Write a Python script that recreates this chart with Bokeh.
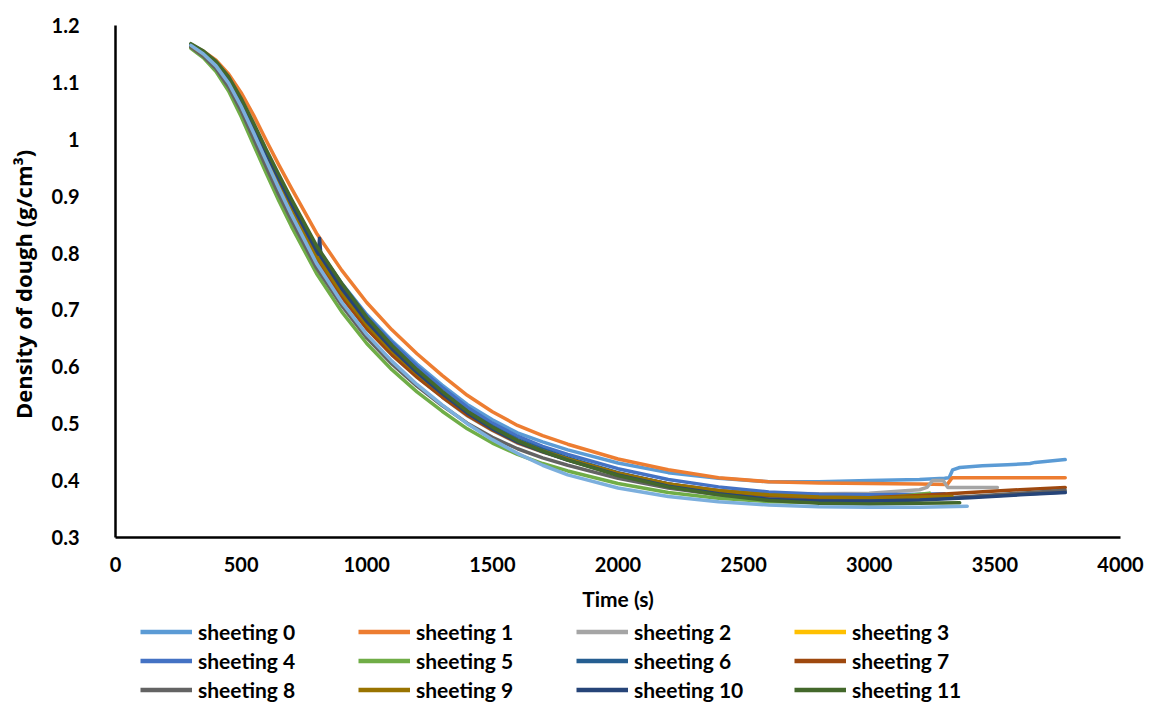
from bokeh.plotting import figure
from bokeh.layouts import column
from bokeh.models import Range1d, FixedTicker, CustomJSTickFormatter, Legend, LegendItem
from bokeh.embed import file_html
from bokeh.resources import INLINE

# ---------------- data ----------------
X_TICKS = [0, 500, 1000, 1500, 2000, 2500, 3000, 3500, 4000]
Y_TICKS = [0.3, 0.4, 0.5, 0.6, 0.7, 0.8, 0.9, 1.0, 1.1, 1.2]

SERIES_NAMES = ["sheeting 0", "sheeting 1", "sheeting 2", "sheeting 3",
                "sheeting 4", "sheeting 5", "sheeting 6", "sheeting 7",
                "sheeting 8", "sheeting 9", "sheeting 10", "sheeting 11"]
SERIES_COLORS = ["#5B9BD5", "#ED7D31", "#A5A5A5", "#FFC000",
                 "#4472C4", "#70AD47", "#255E91", "#9E480E",
                 "#636363", "#997300", "#264478", "#43682B"]
EXTRA_COLOR = "#7CAFDD"   # unlabelled 13th trace (lowest curve)

# common sampling times (s)
T_BASE = [300, 350, 400, 450, 500, 550, 600, 650, 700, 800, 900, 1000, 1100,
          1200, 1300, 1400, 1500, 1600, 1700, 1800, 2000, 2200, 2400, 2600,
          2800, 3000, 3200]

# density (g/cm3) at T_BASE for each series
d_s0 = [1.165, 1.152, 1.134, 1.106, 1.067, 1.022, 0.976, 0.932, 0.890, 0.810, 0.747, 0.692, 0.646,
        0.605, 0.568, 0.534, 0.507, 0.484, 0.468, 0.454, 0.431, 0.414, 0.404, 0.398, 0.398, 0.400, 0.402]
d_s1 = [1.165, 1.155, 1.139, 1.115, 1.082, 1.042, 0.998, 0.955, 0.914, 0.835, 0.770, 0.713, 0.665,
        0.623, 0.585, 0.550, 0.521, 0.497, 0.479, 0.464, 0.438, 0.419, 0.405, 0.398, 0.396, 0.395, 0.394]
d_s2 = [1.166, 1.152, 1.132, 1.103, 1.063, 1.016, 0.967, 0.920, 0.875, 0.791, 0.725, 0.668, 0.622,
        0.582, 0.547, 0.514, 0.488, 0.466, 0.450, 0.436, 0.412, 0.394, 0.383, 0.378, 0.377, 0.378, 0.384]
d_s3 = [1.165, 1.151, 1.131, 1.101, 1.061, 1.014, 0.966, 0.920, 0.876, 0.793, 0.727, 0.671, 0.625,
        0.585, 0.550, 0.517, 0.490, 0.468, 0.451, 0.437, 0.412, 0.393, 0.380, 0.372, 0.368, 0.367, 0.369]
d_s4 = [1.167, 1.154, 1.135, 1.107, 1.068, 1.024, 0.978, 0.934, 0.891, 0.810, 0.746, 0.690, 0.643,
        0.601, 0.564, 0.529, 0.501, 0.478, 0.460, 0.446, 0.421, 0.402, 0.389, 0.380, 0.376, 0.375, 0.376]
d_s5 = [1.160, 1.143, 1.119, 1.085, 1.040, 0.990, 0.940, 0.892, 0.847, 0.764, 0.697, 0.641, 0.595,
        0.556, 0.522, 0.491, 0.466, 0.446, 0.430, 0.417, 0.395, 0.379, 0.369, 0.363, 0.362, 0.367, 0.376]
d_s6 = [1.164, 1.151, 1.132, 1.104, 1.065, 1.020, 0.973, 0.928, 0.884, 0.801, 0.736, 0.679, 0.632,
        0.592, 0.556, 0.522, 0.495, 0.472, 0.455, 0.440, 0.414, 0.394, 0.380, 0.371, 0.366, 0.365, 0.367]
d_s7 = [1.163, 1.148, 1.127, 1.097, 1.056, 1.009, 0.960, 0.914, 0.870, 0.788, 0.723, 0.667, 0.621,
        0.582, 0.547, 0.515, 0.489, 0.467, 0.451, 0.437, 0.413, 0.394, 0.382, 0.374, 0.370, 0.370, 0.374]
d_s8 = [1.162, 1.146, 1.124, 1.092, 1.050, 1.001, 0.951, 0.903, 0.858, 0.774, 0.708, 0.651, 0.605,
        0.566, 0.532, 0.501, 0.476, 0.456, 0.440, 0.427, 0.404, 0.387, 0.375, 0.368, 0.364, 0.364, 0.367]
d_s9 = [1.164, 1.150, 1.130, 1.101, 1.061, 1.015, 0.967, 0.921, 0.877, 0.795, 0.730, 0.674, 0.628,
        0.588, 0.553, 0.520, 0.493, 0.470, 0.452, 0.438, 0.413, 0.394, 0.382, 0.375, 0.371, 0.370, 0.371]
d_s10 = [1.165, 1.152, 1.134, 1.106, 1.068, 1.023, 0.976, 0.931, 0.887, 0.804, 0.738, 0.680, 0.632,
         0.590, 0.553, 0.519, 0.491, 0.468, 0.451, 0.436, 0.410, 0.390, 0.377, 0.367, 0.364, 0.364, 0.366]
d_s11 = [1.168, 1.155, 1.137, 1.110, 1.072, 1.028, 0.982, 0.938, 0.895, 0.813, 0.747, 0.687, 0.638,
         0.595, 0.557, 0.522, 0.494, 0.470, 0.452, 0.436, 0.409, 0.389, 0.375, 0.365, 0.360, 0.359, 0.360]
d_extra = [1.165, 1.150, 1.129, 1.099, 1.058, 1.011, 0.962, 0.914, 0.868, 0.782, 0.714, 0.657, 0.610,
           0.569, 0.533, 0.500, 0.472, 0.448, 0.427, 0.410, 0.387, 0.372, 0.363, 0.357, 0.354, 0.353, 0.353]

# extra readings (end of runs, steps, spikes)
x_s0 = [3300, 3318, 3332, 3360, 3450, 3550, 3640, 3660, 3780]
y_s0 = [0.404, 0.405, 0.419, 0.423, 0.426, 0.428, 0.430, 0.432, 0.437]
x_s1 = [3310, 3330, 3500, 3780]
y_s1 = [0.393, 0.405, 0.405, 0.405]
x_s2 = [3230, 3252, 3295, 3312, 3400, 3510]
y_s2 = [0.388, 0.400, 0.400, 0.388, 0.388, 0.388]
x_s3 = [3230]
y_s3 = [0.370]
x_s4 = [3300]
y_s4 = [0.377]
x_s5 = [3240]
y_s5 = [0.378]
x_s6 = [3400, 3600, 3780]
y_s6 = [0.371, 0.376, 0.380]
x_s7 = [3400, 3600, 3780]
y_s7 = [0.379, 0.384, 0.388]
x_s8 = [3400, 3600, 3780]
y_s8 = [0.372, 0.378, 0.383]
x_s9 = [3330]
y_s9 = [0.372]
x_s10 = [808, 812, 818, 3400, 3600, 3780]
y_s10 = [0.798, 0.826, 0.794, 0.370, 0.375, 0.379]
x_s11 = [3360]
y_s11 = [0.361]
x_extra = [3390]
y_extra = [0.355]

BASE = [d_s0, d_s1, d_s2, d_s3, d_s4, d_s5, d_s6, d_s7, d_s8, d_s9, d_s10, d_s11]
EXTRA_X = [x_s0, x_s1, x_s2, x_s3, x_s4, x_s5, x_s6, x_s7, x_s8, x_s9, x_s10, x_s11]
EXTRA_Y = [y_s0, y_s1, y_s2, y_s3, y_s4, y_s5, y_s6, y_s7, y_s8, y_s9, y_s10, y_s11]


def merged(base, ex, ey):
    pts = sorted(list(zip(T_BASE, base)) + list(zip(ex, ey)))
    return [a for a, _ in pts], [b for _, b in pts]


SERIES_XY = [merged(BASE[i], EXTRA_X[i], EXTRA_Y[i]) for i in range(12)]
EXTRA_XY = merged(d_extra, x_extra, y_extra)

# ---------------- main chart ----------------
FONT = "Lato"
p = figure(width=1162, height=616,
           x_range=Range1d(0, 4000), y_range=Range1d(0.3, 1.2),
           output_backend="svg", toolbar_location=None,
           min_border_left=115, min_border_right=42,
           min_border_top=25, min_border_bottom=79)
p.outline_line_color = None
p.xgrid.visible = False
p.ygrid.visible = False
p.background_fill_color = "white"
p.border_fill_color = "white"

for i in range(12):
    xs, ys = SERIES_XY[i]
    p.line(xs, ys, line_color=SERIES_COLORS[i], line_width=3.5,
           line_join="round", line_cap="round")
p.line(EXTRA_XY[0], EXTRA_XY[1], line_color=EXTRA_COLOR, line_width=3.5,
       line_join="round", line_cap="round")

for ax in (p.xaxis[0], p.yaxis[0]):
    ax.axis_line_color = "black"
    ax.axis_line_width = 2.5
    ax.major_tick_in = 0
    ax.major_tick_out = 0
    ax.minor_tick_in = 0
    ax.minor_tick_out = 0
    ax.major_label_text_font = FONT
    ax.major_label_text_font_style = "bold"
    ax.major_label_text_font_size = "20px"
    ax.major_label_text_color = "black"
    ax.axis_label_text_font_style = "bold"
    ax.axis_label_text_color = "black"

p.xaxis.axis_label_text_font = FONT
p.xaxis.axis_label_text_font_size = "21px"
p.yaxis.axis_label_text_font = "Open Sans"
p.yaxis.axis_label_text_font_size = "22px"

p.xaxis.ticker = FixedTicker(ticks=X_TICKS)
p.yaxis.ticker = FixedTicker(ticks=Y_TICKS)
p.yaxis.formatter = CustomJSTickFormatter(code="return String(Number(tick.toFixed(1)));")
p.xaxis.major_label_standoff = 19
p.yaxis.major_label_standoff = 36
p.xaxis.axis_label = "Time (s)"
p.yaxis.axis_label = "Density of dough  (g/cm³)"
p.xaxis.axis_label_standoff = 11
p.yaxis.axis_label_standoff = 11

# ---------------- legend strip below ----------------
# legend proxies reuse the series data; the strip's ranges keep them out of view
q = figure(width=1162, height=88, x_range=Range1d(0, 1), y_range=Range1d(0, 1),
           output_backend="svg", toolbar_location=None,
           x_axis_location=None, y_axis_location=None,
           min_border_left=0, min_border_right=0, min_border_top=0, min_border_bottom=0)
q.outline_line_color = None
q.grid.visible = False
q.background_fill_color = "white"
q.border_fill_color = "white"

items = []
for i in range(12):
    xs, ys = SERIES_XY[i]
    r = q.line(xs, ys, line_color=SERIES_COLORS[i], line_width=4.5)
    items.append(LegendItem(label=SERIES_NAMES[i], renderers=[r]))

legend = Legend(items=items, location=(25, 0), orientation="horizontal", ncols=4,
                glyph_width=52, glyph_height=29, label_height=29, label_width=160,
                label_standoff=6, spacing=0, padding=0, margin=0,
                border_line_color=None, background_fill_alpha=0,
                label_text_font=FONT, label_text_font_style="bold",
                label_text_font_size="21px", label_text_color="black")
q.add_layout(legend)

layout = column(p, q, spacing=0)
open("out.html", "w").write(file_html(layout, INLINE))
